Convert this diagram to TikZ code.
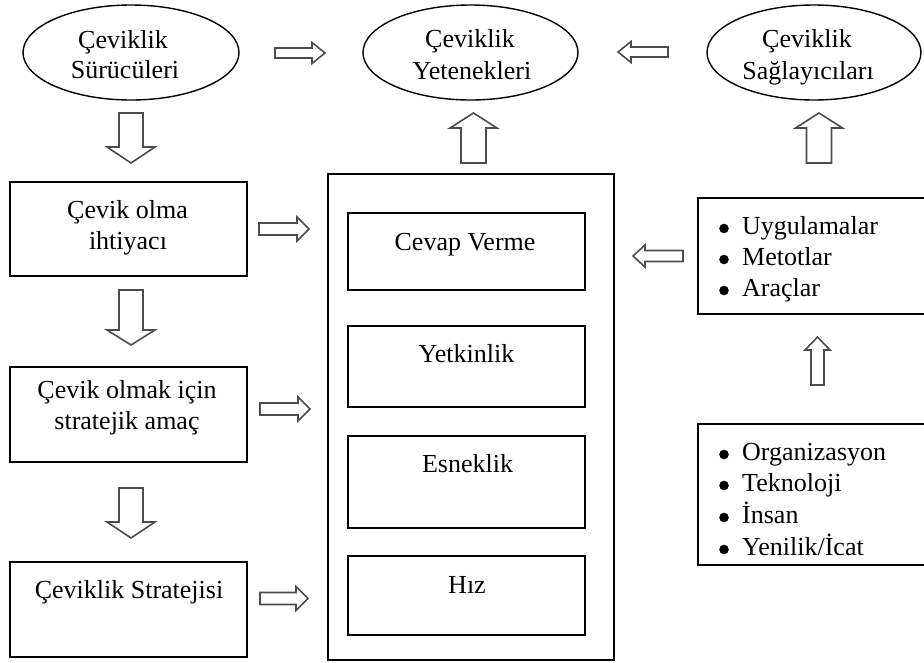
\documentclass[tikz,border=0pt]{standalone}
\usepackage{fontspec}
\setmainfont{Liberation Serif}
\usetikzlibrary{shapes.geometric}
\tikzset{
  pics/barrow/.style args={#1/#2/#3/#4}{code={
    \draw[arrowline] (0,-#2) -- (#1-#4,-#2) -- (#1-#4,-#3) -- (#1,0) -- (#1-#4,#3) -- (#1-#4,#2) -- (0,#2) -- cycle;
  }},
  arrowline/.style={draw=black!70, line width=1.6pt, fill=white, line join=miter},
  txt/.style={inner sep=0pt, anchor=base},
  lst/.style={inner sep=0pt, anchor=base west},
  ell/.style={ellipse, draw, line width=1.4pt, inner sep=0pt, minimum width=#1, minimum height=95},
  boxn/.style args={#1/#2}{rectangle, draw, line width=1.6pt, inner sep=0pt, minimum width=#1, minimum height=#2},
  openbox/.style args={#1/#2}{rectangle, inner sep=0pt, minimum width=#1, minimum height=#2},
  boxline/.style={line width=1.6pt},
  bulletdot/.style={fill=black},
}
\begin{document}
\begin{tikzpicture}[x=1pt,y=-1pt, every node/.style={font=\fontsize{26}{31}\selectfont}]
\useasboundingbox (0,0) rectangle (924,662);
% ellipses
\node[ell=216] (e1) at (131,52.5) {};
\node[ell=215] (e2) at (470.5,52.5) {};
\node[ell=214] (e3) at (814,52.5) {};
\node[txt] (e1a) at (123,48) {Çeviklik};
\node[txt] (e1b) at (125,78) {Sürücüleri};
\node[txt] (e2a) at (470,47) {Çeviklik};
\node[txt] (e2b) at (472,79) {Yetenekleri};
\node[txt] (e3a) at (807,47) {Çeviklik};
\node[txt] (e3b) at (808,79) {Sağlayıcıları};
% left boxes
\node[boxn=237/94] (b1) at (128.5,229) {};
\node[boxn=237/95] (b2) at (128.5,414.5) {};
\node[boxn=237/95] (b3) at (128.5,609.5) {};
\node[txt] (b1a) at (127.5,218) {Çevik olma};
\node[txt] (b1b) at (128,249) {ihtiyacı};
\node[txt] (b2a) at (127,398) {Çevik olmak için};
\node[txt] (b2b) at (127,429) {stratejik amaç};
\node[txt] (b3a) at (129,598) {Çeviklik Stratejisi};
% big box
\node[boxn=286/486] (big) at (471,417) {};
\node[boxn=237/77] (ia) at (466.5,251.5) {};
\node[boxn=237/81] (ib) at (466.5,366.5) {};
\node[boxn=237/92] (ic) at (466.5,482) {};
\node[boxn=237/79] (id) at (466.5,595.5) {};
\node[txt] (iat) at (465,250) {Cevap Verme};
\node[txt] (ibt) at (466.5,362) {Yetkinlik};
\node[txt] (ict) at (467.5,472) {Esneklik};
\node[txt] (idt) at (467,593) {Hız};
% right boxes (open to the right edge)
\node[openbox=226/116] (r1) at (811,256) {};
\node[openbox=226/141] (r2) at (811,494.5) {};
\draw[boxline] (r1.north east) -- (r1.north west) -- (r1.south west) -- (r1.south east);
\draw[boxline] (r2.north east) -- (r2.north west) -- (r2.south west) -- (r2.south east);
\node[lst] (r1a) at (742,234) {Uygulamalar};
\node[lst] (r1b) at (742,265) {Metotlar};
\node[lst] (r1c) at (742,296) {Araçlar};
\node[lst] (r2a) at (742,460) {Organizasyon};
\node[lst] (r2b) at (742,491) {Teknoloji};
\node[lst] (r2c) at (742,523) {İnsan};
\node[lst] (r2d) at (742,555) {Yenilik/İcat};
\foreach \n in {r1a,r1b,r1c,r2a,r2b,r2c,r2d}
  \fill[bulletdot] (\n.base west) ++(-18,-5.5) circle (4.8);
% block arrows
\pic at (275,53) {barrow=50/5/10.5/13};
\pic[rotate=180] at (668,52) {barrow=50/5/10.5/13};
\pic[rotate=-90] at (131,113) {barrow=50/12/24/16};
\pic[rotate=-90] at (131,290) {barrow=55/12/24/15};
\pic[rotate=-90] at (131,488) {barrow=50/12/24/16};
\pic[rotate=90] at (473.5,163) {barrow=50/12.5/23.5/15};
\pic[rotate=90] at (819,163) {barrow=50/12.5/23.5/15};
\pic[rotate=90] at (817.5,385) {barrow=48/6.5/12.5/13};
\pic at (259,229) {barrow=50/6/12/12};
\pic at (260,409) {barrow=50/6/12/12};
\pic at (260,598.5) {barrow=48/6/12/12};
\pic[rotate=180] at (683,256) {barrow=50/5.5/11/12};
\end{tikzpicture}
\end{document}
